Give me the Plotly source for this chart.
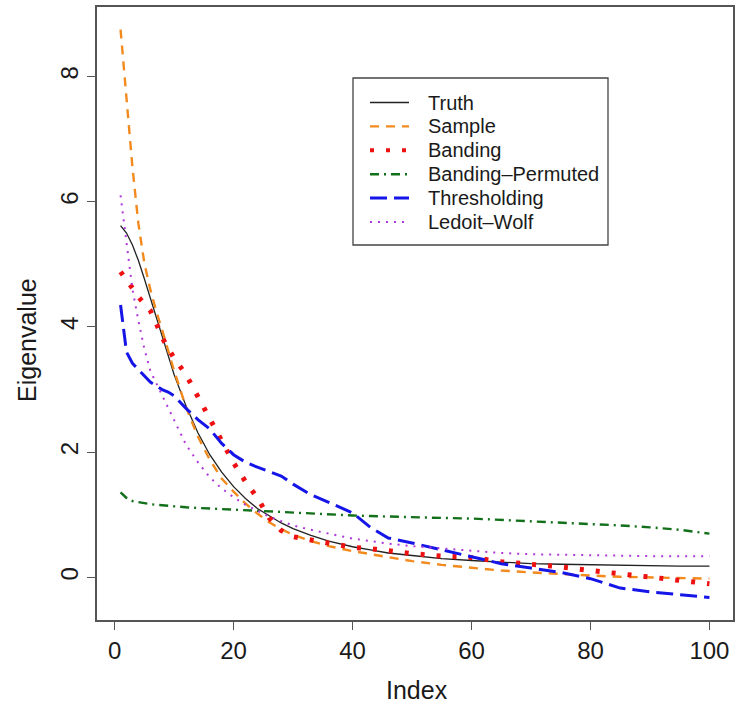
import plotly.graph_objects as go

# ---- data ----
index = [1, 2, 3, 4, 5, 6, 7, 8, 9, 10, 12, 14, 16, 18, 20, 22, 24, 26, 28, 30,
         33, 36, 40, 43, 46, 50, 55, 60, 65, 70, 75, 80, 85, 90, 95, 100]

truth = [5.62, 5.50, 5.31, 5.06, 4.77, 4.46, 4.15, 3.83, 3.53, 3.24, 2.74, 2.31,
         1.96, 1.68, 1.45, 1.26, 1.10, 0.98, 0.87, 0.78, 0.67, 0.58, 0.49, 0.44,
         0.39, 0.35, 0.30, 0.27, 0.24, 0.22, 0.21, 0.20, 0.19, 0.18, 0.18, 0.18]

sample = [8.75, 7.65, 6.55, 5.65, 5.02, 4.60, 4.25, 3.95, 3.62, 3.30, 2.72, 2.25,
          1.88, 1.58, 1.37, 1.18, 1.02, 0.88, 0.77, 0.68, 0.58, 0.50, 0.42, 0.37,
          0.32, 0.26, 0.20, 0.15, 0.11, 0.08, 0.05, 0.03, 0.01, 0.00, -0.01, -0.02]

banding = [4.88, 4.76, 4.62, 4.48, 4.38, 4.26, 4.06, 3.83, 3.66, 3.50, 3.24, 2.88,
           2.55, 2.15, 1.83, 1.53, 1.27, 0.95, 0.75, 0.65, 0.60, 0.55, 0.48, 0.46,
           0.42, 0.38, 0.34, 0.32, 0.25, 0.21, 0.17, 0.11, 0.06, 0.01, -0.04, -0.10]

banding_permuted = [1.36, 1.27, 1.22, 1.20, 1.18, 1.17, 1.16, 1.15, 1.14, 1.13, 1.12, 1.11,
                    1.10, 1.09, 1.08, 1.07, 1.06, 1.05, 1.04, 1.03, 1.02, 1.01, 0.99, 0.98,
                    0.97, 0.96, 0.95, 0.94, 0.92, 0.90, 0.88, 0.86, 0.83, 0.80, 0.76, 0.70]

thresholding = [4.35, 3.60, 3.42, 3.32, 3.22, 3.12, 3.06, 3.00, 2.96, 2.90, 2.70, 2.52,
                2.37, 2.14, 1.96, 1.84, 1.76, 1.69, 1.62, 1.49, 1.32, 1.20, 1.03, 0.80,
                0.63, 0.55, 0.44, 0.32, 0.22, 0.15, 0.08, -0.02, -0.17, -0.23, -0.27, -0.32]

ledoit_wolf = [6.10, 5.35, 4.60, 4.10, 3.65, 3.30, 3.10, 2.92, 2.72, 2.50, 2.12, 1.84,
               1.60, 1.42, 1.28, 1.16, 1.06, 0.97, 0.90, 0.83, 0.76, 0.70, 0.62, 0.58,
               0.54, 0.50, 0.46, 0.42, 0.39, 0.37, 0.36, 0.35, 0.35, 0.34, 0.34, 0.34]

x_ticks = [0, 20, 40, 60, 80, 100]
y_ticks = [0, 2, 4, 6, 8]

series = [
    ("Truth", truth, "#222222", 1.3, "solid"),
    ("Sample", sample, "#F28A1E", 2.4, "9px,7px"),
    ("Banding", banding, "#EE1111", 5, "4px,12px"),
    ("Banding\u2013Permuted", banding_permuted, "#12701A", 2.4, "9px,5px,2px,5px"),
    ("Thresholding", thresholding, "#1515E8", 3, "17px,7px"),
    ("Ledoit\u2013Wolf", ledoit_wolf, "#B038D8", 2, "2px,6px"),
]

fig = go.Figure()
for name, vals, color, width, dash in series:
    fig.add_trace(go.Scatter(x=index, y=vals, mode="lines", name=name,
                             line=dict(color=color, width=width, dash=dash)))

# ---- layout geometry (pixels) ----
W, H = 735, 704
ML, MR, MT, MB = 97, 2, 7, 84
PW, PH = W - ML - MR, H - MT - MB

def px_x(p):
    return (p - ML) / PW

def px_y(p):
    return (H - MB - p) / PH

FONT = "Liberation Sans, Arial, Helvetica, sans-serif"

fig.update_layout(
    width=W, height=H,
    margin=dict(l=ML, r=MR, t=MT, b=MB, pad=0, autoexpand=False),
    plot_bgcolor="white", paper_bgcolor="white",
    showlegend=False,
    font=dict(family=FONT, color="#1a1a1a"),
)

axis_common = dict(
    showgrid=False, zeroline=False, automargin=False,
    showline=True, mirror=True, linecolor="#555555", linewidth=1.5,
    ticks="outside", ticklen=8, tickwidth=1.2, tickcolor="#555555",
    tickfont=dict(size=24, family=FONT, color="#1a1a1a"),
)

fig.update_xaxes(range=[-2.96, 103.96], tickvals=x_ticks, **axis_common)
fig.update_yaxes(range=[-0.68, 9.11], tickvals=y_ticks, tickangle=-90, **axis_common)

# axis titles placed as text at the reference positions
fig.add_annotation(xref="paper", yref="paper", x=px_x(417), y=px_y(690),
                   text="Index", showarrow=False, xanchor="center", yanchor="middle",
                   font=dict(size=25, family=FONT, color="#1a1a1a"))
fig.add_annotation(xref="paper", yref="paper", x=px_x(27), y=px_y(340),
                   text="Eigenvalue", showarrow=False, xanchor="center", yanchor="middle",
                   textangle=-90, font=dict(size=25, family=FONT, color="#1a1a1a"))

# ---- legend drawn as a box with sample lines and text ----
fig.add_shape(type="rect", xref="paper", yref="paper",
              x0=px_x(353), x1=px_x(608), y0=px_y(245), y1=px_y(78),
              line=dict(color="#444444", width=1.3), fillcolor="white", layer="above")
for i, (name, vals, color, width, dash) in enumerate(series):
    yy = px_y(102.5 + 23.9 * i)
    fig.add_shape(type="line", xref="paper", yref="paper",
                  x0=px_x(370), x1=px_x(409), y0=yy, y1=yy,
                  line=dict(color=color, width=min(width, 4), dash=dash), layer="above")
    fig.add_annotation(xref="paper", yref="paper", x=px_x(426), y=yy,
                       text=name, showarrow=False, xanchor="left", yanchor="middle",
                       font=dict(size=20, family=FONT, color="#1a1a1a"))

fig.write_html(
    "out.html",
    config={"displayModeBar": False},
    post_script="document.body.style.margin='0px';document.body.style.overflow='hidden';",
)
